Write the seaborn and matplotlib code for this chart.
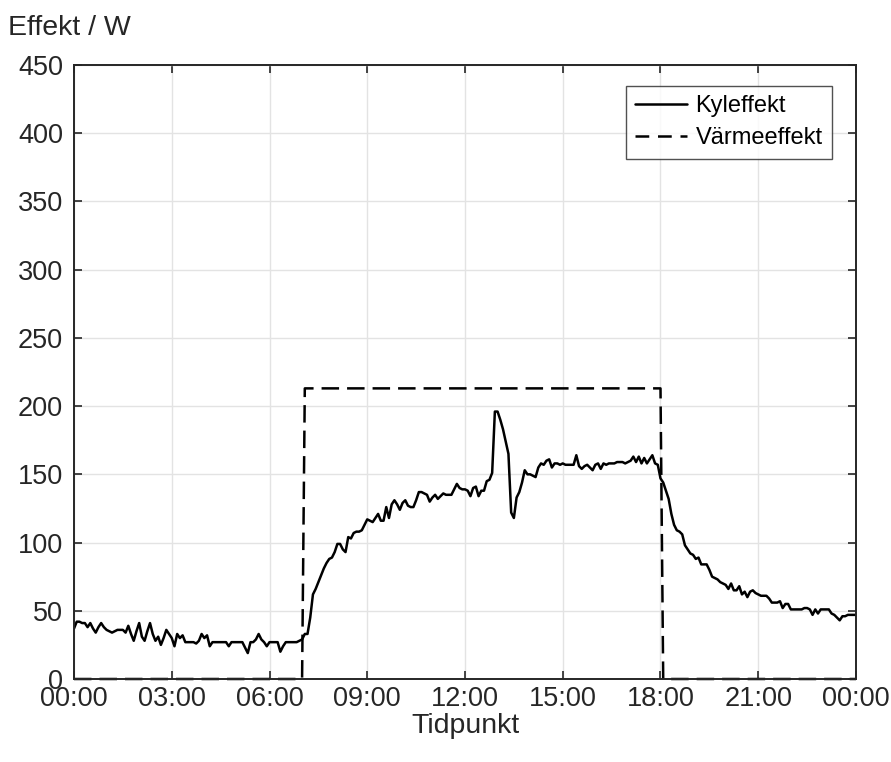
import numpy as np
import pandas as pd
import matplotlib
matplotlib.use("Agg")
import matplotlib.pyplot as plt
import seaborn as sns

# ---------------- data ----------------
# Kyleffekt (cooling power, W), 5-minute samples from 00:00 to 24:00, one row per hour
cool_h00 = [37, 42, 42, 41, 41, 38, 41, 37, 34, 38, 41, 38]
cool_h01 = [36, 35, 34, 35, 36, 36, 36, 34, 39, 33, 28, 35]
cool_h02 = [41, 31, 28, 35, 41, 33, 28, 31, 25, 30, 36, 33]
cool_h03 = [30, 24, 33, 30, 32, 27, 27, 27, 27, 26, 28, 33]
cool_h04 = [30, 32, 24, 27, 27, 27, 27, 27, 27, 24, 27, 27]
cool_h05 = [27, 27, 27, 23, 19, 27, 27, 29, 33, 29, 27, 24]
cool_h06 = [27, 27, 27, 27, 20, 24, 27, 27, 27, 27, 27, 28]
cool_h07 = [29, 33, 33, 45, 62, 66, 71, 76, 81, 85, 88, 89]
cool_h08 = [93, 99, 99, 95, 93, 104, 103, 107, 108, 108, 109, 113]
cool_h09 = [117, 116, 115, 118, 121, 116, 116, 126, 118, 128, 131, 128]
cool_h10 = [124, 129, 131, 127, 126, 126, 131, 137, 137, 136, 135, 130]
cool_h11 = [133, 135, 132, 134, 136, 135, 135, 135, 139, 143, 140, 139]
cool_h12 = [139, 138, 134, 140, 141, 134, 138, 138, 145, 146, 151, 196]
cool_h13 = [196, 190, 183, 174, 165, 122, 118, 133, 137, 144, 153, 150]
cool_h14 = [150, 149, 148, 155, 158, 157, 160, 161, 155, 158, 158, 157]
cool_h15 = [158, 157, 157, 157, 157, 164, 156, 154, 156, 157, 155, 153]
cool_h16 = [157, 158, 154, 158, 157, 158, 158, 158, 159, 159, 159, 158]
cool_h17 = [159, 160, 163, 159, 163, 158, 162, 158, 161, 164, 158, 157]
cool_h18 = [147, 144, 138, 132, 121, 113, 109, 108, 106, 98, 95, 92]
cool_h19 = [91, 88, 89, 84, 84, 84, 80, 75, 74, 73, 71, 70]
cool_h20 = [69, 66, 70, 65, 65, 68, 62, 64, 60, 64, 65, 63]
cool_h21 = [62, 61, 61, 61, 59, 56, 56, 56, 57, 52, 55, 55]
cool_h22 = [51, 51, 51, 51, 51, 52, 52, 51, 47, 51, 48, 51]
cool_h23 = [51, 51, 51, 48, 47, 45, 43, 46, 46, 47, 47, 47]
cool_end = [47]

# Värmeeffekt (heating power, W): breakpoints (hours) and levels
heat_hours = [0.0, 7.0, 7 + 5 / 60, 18.0, 18 + 5 / 60, 24.0]
heat_values = [0, 0, 213, 213, 0, 0]

x_tick_hours = [0, 3, 6, 9, 12, 15, 18, 21, 24]
x_tick_labels = ["00:00", "03:00", "06:00", "09:00", "12:00", "15:00", "18:00", "21:00", "00:00"]
y_ticks = [0, 50, 100, 150, 200, 250, 300, 350, 400, 450]

series_names = ["Kyleffekt", "Värmeeffekt"]

# ---------------- build frames ----------------
cool_values = (cool_h00 + cool_h01 + cool_h02 + cool_h03 + cool_h04 + cool_h05 +
               cool_h06 + cool_h07 + cool_h08 + cool_h09 + cool_h10 + cool_h11 +
               cool_h12 + cool_h13 + cool_h14 + cool_h15 + cool_h16 + cool_h17 +
               cool_h18 + cool_h19 + cool_h20 + cool_h21 + cool_h22 + cool_h23 + cool_end)
cool_hours = np.arange(len(cool_values)) * 5 / 60.0
df_cool = pd.DataFrame({"t": cool_hours, "P": cool_values})
df_heat = pd.DataFrame({"t": heat_hours, "P": heat_values})

# ---------------- plot ----------------
sns.set_theme(style="white")
plt.rcParams["font.family"] = ["Liberation Sans", "DejaVu Sans"]

fig = plt.figure(figsize=(8.91, 7.62), dpi=100)
ax = fig.add_axes([74 / 891, 1 - 679 / 762, (856 - 74) / 891, (679 - 65) / 762])

LW = 1.8
sns.lineplot(data=df_cool, x="t", y="P", ax=ax, color="black", linewidth=LW,
             label=series_names[0], estimator=None, sort=False)
sns.lineplot(data=df_heat, x="t", y="P", ax=ax, color="black", linewidth=LW,
             label=series_names[1], estimator=None, sort=False)
ax.lines[1].set_dashes([7, 3.2])
ax.lines[1].set_clip_on(False)

ax.set_xlim(0, 24)
ax.set_ylim(0, 450)
ax.set_xticks(x_tick_hours)
ax.set_xticklabels(x_tick_labels)
ax.set_yticks(y_ticks)

ax.grid(True, color="#e3e3e3", linewidth=1.0)
ax.set_axisbelow(True)
for s in ax.spines.values():
    s.set_visible(True)
    s.set_color("#262626")
    s.set_linewidth(1.4)

TICK_FS = 19.5
ax.tick_params(axis="both", which="both", direction="in", length=6, width=1.2,
               color="#262626", labelcolor="#262626", labelsize=TICK_FS,
               top=True, right=True, bottom=True, left=True)
ax.tick_params(axis="x", pad=5)
ax.tick_params(axis="y", pad=8)

ax.set_xlabel("Tidpunkt", fontsize=20.5, color="#262626", labelpad=0.5)
ax.set_ylabel("")
fig.text(8 / 891, 1 - 28 / 762, "Effekt / W", fontsize=20.5, color="#262626",
         ha="left", va="center")

leg = ax.legend(loc="upper right", bbox_to_anchor=((832 - 74) / 782, (679 - 86) / 614),
                frameon=True, fancybox=False, fontsize=17, handlelength=2.2,
                borderpad=0.4, labelspacing=0.42, handletextpad=0.35, borderaxespad=0)
leg.get_frame().set_edgecolor("#262626")
leg.get_frame().set_linewidth(1.0)
for h in leg.get_lines():
    h.set_linewidth(LW)
leg.get_lines()[1].set_dashes([5.5, 3.5])
for t in leg.get_texts():
    t.set_color("black")

fig.savefig("out.png", dpi=100, facecolor="white")
